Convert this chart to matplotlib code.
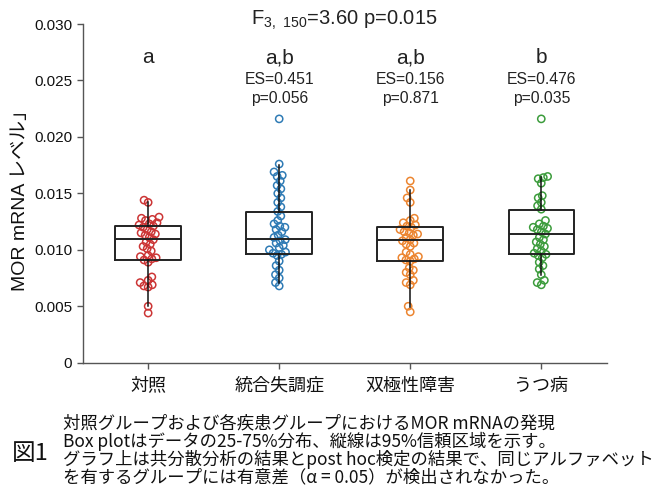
import matplotlib
matplotlib.use("Agg")
import matplotlib.pyplot as plt
import numpy as np
import pandas as pd
import seaborn as sns

# ---------------- data ----------------
categories = ["対照", "統合失調症", "双極性障害", "うつ病"]
colors = ["#cc3535", "#2f7bb5", "#ec8530", "#3c9c3c"]

control = [0.0144, 0.0142, 0.0129, 0.0128, 0.0127, 0.0126, 0.0124, 0.0123, 0.0122,
           0.0121, 0.0120, 0.0118, 0.0116, 0.0115, 0.0114, 0.0113, 0.0111, 0.0109,
           0.0107, 0.0105, 0.0103, 0.0101, 0.0099, 0.0095, 0.0094, 0.0093, 0.0092,
           0.0091, 0.0089, 0.0076, 0.0073, 0.0071, 0.0069, 0.0068, 0.0067, 0.0050, 0.0044]
schizo = [0.0216, 0.0176, 0.0169, 0.0166, 0.0165, 0.0161, 0.0157, 0.0154, 0.0150,
          0.0146, 0.0142, 0.0138, 0.0134, 0.0130, 0.0126, 0.0123, 0.0121, 0.0120,
          0.0118, 0.0116, 0.0113, 0.0111, 0.0109, 0.0108, 0.0106, 0.0104, 0.0102,
          0.0100, 0.0098, 0.0097, 0.0096, 0.0095, 0.0090, 0.0086, 0.0082, 0.0078,
          0.0075, 0.0071, 0.0068]
bipolar = [0.0161, 0.0153, 0.0146, 0.0142, 0.0128, 0.0126, 0.0124, 0.0122, 0.0121,
           0.0120, 0.0118, 0.0116, 0.0115, 0.0114, 0.0113, 0.0111, 0.0109, 0.0108,
           0.0106, 0.0105, 0.0103, 0.0098, 0.0096, 0.0094, 0.0093, 0.0092, 0.0091,
           0.0090, 0.0084, 0.0082, 0.0080, 0.0078, 0.0073, 0.0071, 0.0069, 0.0050, 0.0045]
depression = [0.0216, 0.0165, 0.0164, 0.0163, 0.0159, 0.0148, 0.0146, 0.0142, 0.0139,
              0.0136, 0.0126, 0.0123, 0.0121, 0.0120, 0.0119, 0.0118, 0.0116, 0.0114,
              0.0111, 0.0109, 0.0107, 0.0105, 0.0103, 0.0101, 0.0099, 0.0097, 0.0096,
              0.0095, 0.0093, 0.0089, 0.0086, 0.0083, 0.0078, 0.0073, 0.0071, 0.0069]
groups = [control, schizo, bipolar, depression]

q1 = [0.0091, 0.00962, 0.00903, 0.00965]
med = [0.01095, 0.0110, 0.01089, 0.01139]
q3 = [0.01212, 0.01336, 0.0120, 0.01357]
whis_lo = [0.0050, 0.0071, 0.00496, 0.00776]
whis_hi = [0.0142, 0.0175, 0.01528, 0.01646]

letters = ["a", "a,b", "a,b", "b"]
es_text = ["", "ES=0.451", "ES=0.156", "ES=0.476"]
p_text = ["", "p=0.056", "p=0.871", "p=0.035"]
title = r"F$_{\mathregular{3,\ 150}}$=3.60 p=0.015"
ylabel = "MOR mRNA レベル」"
yticks = [0, 0.005, 0.010, 0.015, 0.020, 0.025, 0.030]
ytick_labels = ["0", "0.005", "0.010", "0.015", "0.020", "0.025", "0.030"]
caption_lines = [
    "対照グループおよび各疾患グループにおけるMOR mRNAの発現",
    "Box plotはデータの25-75%分布、縦線は95%信頼区域を示す。",
    "グラフ上は共分散分析の結果とpost hoc検定の結果で、同じアルファベット",
    "を有するグループには有意差（α = 0.05）が検出されなかった。",
]
fig_label = "図1"

# ---------------- style ----------------
plt.rcParams["font.family"] = ["Liberation Sans", "Noto Sans CJK JP", "DejaVu Sans"]
plt.rcParams["mathtext.fontset"] = "custom"
plt.rcParams["mathtext.rm"] = "Liberation Sans"
cjk = ["Noto Sans CJK JP", "DejaVu Sans"]

fig = plt.figure(figsize=(6.61, 5.01), dpi=100)
ax = fig.add_axes([0.125, 0.276, 0.793, 0.676])

df = pd.DataFrame({
    "group": np.concatenate([[c] * len(g) for c, g in zip(categories, groups)]),
    "value": np.concatenate(groups),
})
sns.swarmplot(data=df, x="group", y="value", order=categories, hue="group",
              hue_order=categories, palette=colors, size=4.6, ax=ax, legend=False,
              zorder=2)
ax.set_xlim(-0.5, 3.5)
ax.set_ylim(0, 0.030)

# let seaborn lay out the swarm once, then make it more compact (overlapping)
fig.canvas.draw()
for i, (coll, col) in enumerate(zip(ax.collections, colors)):
    if "draw" in coll.__dict__:
        del coll.draw
    off = np.asarray(coll.get_offsets()).copy()
    if len(off):
        off[:, 0] = i + (off[:, 0] - i) * 0.65
        coll.set_offsets(off)
    coll.set_facecolor("none")
    coll.set_edgecolor(col)
    coll.set_linewidth(1.1)
    coll.set_sizes([27])

stats = []
for i in range(4):
    stats.append(dict(med=med[i], q1=q1[i], q3=q3[i], whislo=whis_lo[i],
                      whishi=whis_hi[i], fliers=[]))
ax.bxp(stats, positions=range(4), widths=0.5, showcaps=False, patch_artist=False,
       boxprops=dict(color="#222222", linewidth=1.4),
       medianprops=dict(color="#222222", linewidth=1.4),
       whiskerprops=dict(color="#111111", linewidth=1.1),
       manage_ticks=False, zorder=3)

ax.set_xlim(-0.5, 3.5)
ax.set_ylim(0, 0.030)
ax.set_yticks(yticks)
ax.set_yticklabels(ytick_labels, fontsize=11)
ax.set_xticks(range(4))
ax.set_xticklabels(categories, fontsize=13, family=cjk)
ax.set_xlabel("")
ax.set_ylabel("")
for s in ["top", "right"]:
    ax.spines[s].set_visible(False)
for s in ["left", "bottom"]:
    ax.spines[s].set_color("#555555")
    ax.spines[s].set_linewidth(1.0)
ax.tick_params(axis="both", length=4, width=1, color="#555555", colors="#111111")
ax.tick_params(axis="x", pad=6)

for i in range(4):
    ax.text(i, 0.0270, letters[i], ha="center", va="center", fontsize=15,
            color="#222222")
    if es_text[i]:
        ax.text(i, 0.0251, es_text[i], ha="center", va="center", fontsize=11.3,
                color="#222222")
        ax.text(i, 0.0234, p_text[i], ha="center", va="center", fontsize=11.3,
                color="#222222")
ax.text(1.5, 0.0303, title, ha="center", va="center", fontsize=14.5,
        color="#222222", clip_on=False)

fig.text(21 / 661, 1 - 196 / 501, ylabel, rotation=90, ha="center", va="center",
         fontsize=14, family=["Liberation Sans", "Noto Sans CJK JP"], color="#111111")

for k, line in enumerate(caption_lines):
    y = 423 + k * 18.2
    fig.text(63 / 661, 1 - y / 501, line, ha="left", va="center", fontsize=12.5,
             family=cjk, color="#111111")
fig.text(12 / 661, 1 - 454 / 501, fig_label, ha="left", va="center", fontsize=17,
         family=cjk, color="#111111")

fig.savefig("out.png", dpi=100, facecolor="white")
